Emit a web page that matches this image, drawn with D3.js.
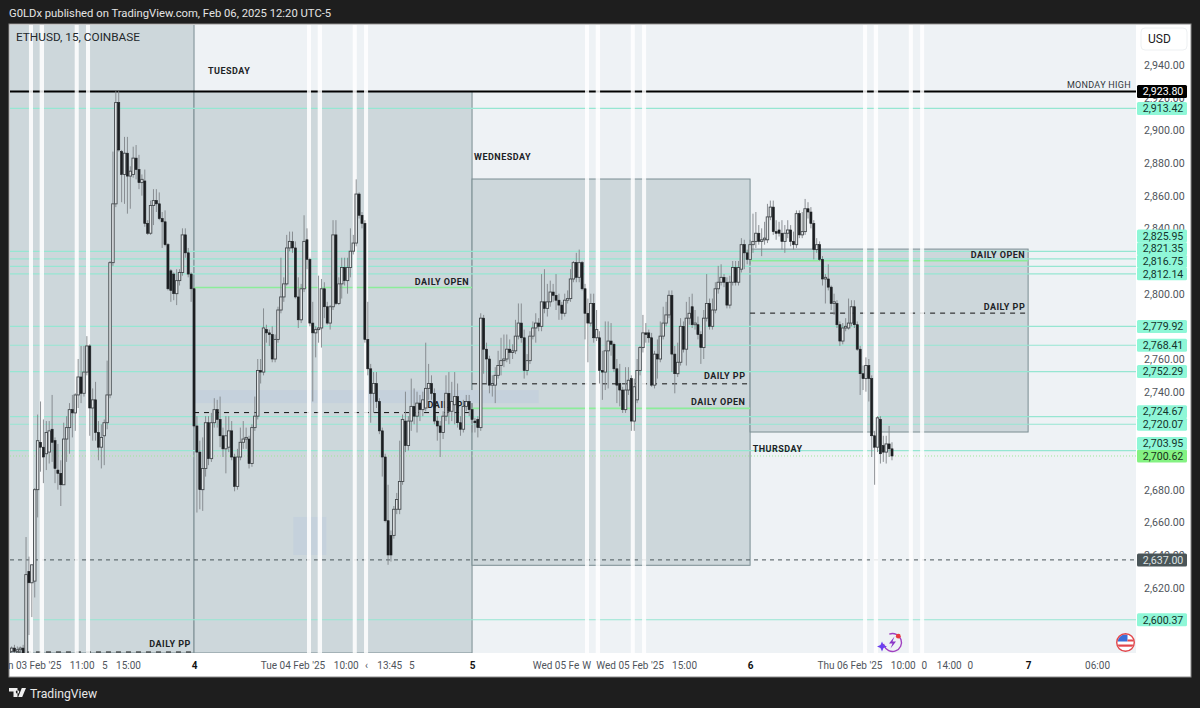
<!DOCTYPE html>
<html>
<head>
<meta charset="utf-8">
<script src="https://cdn.jsdelivr.net/npm/d3@7"></script>
<style>
  html, body { margin: 0; padding: 0; background: #1e1e1e; }
  text { font-family: Roboto, "Noto Sans", sans-serif; }
</style>
</head>
<body>
<div id="chart"></div>
<script>
// candles as [open, high, low, close], 15 min bars
const mondayBars = [
  [2581,2584,2579,2583],[2583,2585,2580,2581],[2581,2584,2579,2582],[2582,2584,2580,2583],[2583,2585,2570,2575],
  [2575,2651,2570,2628],[2630,2639,2591,2623],[2623,2634,2602,2634],[2624,2681,2614,2680],[2680,2726,2663,2710],
  [2709,2734,2691,2706],[2706,2723,2684,2700],[2702,2722,2692,2715],[2703,2722,2696,2716],[2717,2738,2697,2709],
  [2710,2712,2684,2693],[2692,2708,2680,2690],[2690,2698,2670,2683],[2683,2721,2683,2711],[2711,2725,2697,2718],
  [2718,2733,2702,2729],[2729,2738,2712,2727],[2727,2739,2716,2738],[2738,2760,2730,2749],[2749,2768,2733,2739],
  [2739,2768,2737,2752],[2752,2774,2750,2768],[2768,2769,2713,2730],[2730,2742,2710,2735],[2735,2746,2710,2715],
  [2715,2722,2698,2706],[2706,2720,2693,2712],[2713,2723,2695,2721],[2721,2759,2717,2738],[2738,2820,2736,2819],
  [2819,2887,2817,2855],[2855,2924,2853,2917],[2917,2924,2887,2888],[2887,2888,2856,2873],[2873,2896,2855,2886],
  [2886,2896,2849,2872],[2872,2878,2852,2875],[2873,2890,2871,2883],[2883,2891,2870,2876],[2876,2885,2864,2868],
  [2868,2873,2860,2870],[2869,2876,2841,2843],[2843,2845,2836,2837],[2837,2857,2836,2854],[2854,2864,2842,2857],
  [2857,2864,2850,2855],[2855,2862,2845,2846],[2846,2850,2828,2844],[2844,2851,2829,2830],[2830,2831,2802,2803],
  [2814,2815,2795,2802],[2812,2813,2796,2800],[2800,2815,2793,2808],[2808,2815,2805,2813],[2813,2840,2811,2836],
  [2836,2840,2822,2825],[2825,2828,2810,2812],[2812,2813,2795,2803]
];
const tuesdayBars = [
  [2803,2804,2718,2719],[2719,2725,2666,2703],[2703,2710,2668,2680],[2680,2712,2667,2693],[2693,2725,2688,2721],
  [2721,2725,2695,2699],[2699,2727,2697,2721],[2721,2736,2718,2729],[2729,2735,2718,2723],[2723,2737,2706,2713],
  [2713,2718,2700,2705],[2705,2725,2690,2713],[2706,2725,2703,2716],[2716,2722,2698,2700],[2700,2702,2679,2682],
  [2682,2705,2680,2700],[2700,2718,2698,2709],[2709,2722,2705,2711],[2711,2718,2705,2712],[2711,2713,2693,2696],
  [2696,2720,2694,2718],[2718,2737,2716,2725],[2725,2760,2723,2753],[2753,2760,2745,2752],[2752,2791,2750,2779],
  [2778,2781,2770,2776],[2776,2778,2768,2775],[2775,2780,2758,2760],[2760,2775,2758,2772],[2772,2792,2770,2790],
  [2790,2822,2788,2798],[2798,2810,2795,2806],[2806,2836,2805,2828],[2828,2838,2826,2832],[2832,2838,2825,2828],
  [2828,2832,2797,2798],[2798,2810,2779,2784],[2784,2806,2782,2803],[2803,2848,2801,2832],[2833,2840,2815,2821],
  [2821,2822,2780,2782],[2782,2795,2734,2776],[2776,2780,2761,2778],[2778,2811,2770,2779],[2779,2809,2767,2803],
  [2803,2807,2785,2792],[2792,2795,2781,2782],[2782,2793,2778,2792],[2792,2845,2790,2836],[2836,2845,2793,2794],
  [2794,2810,2793,2806],[2806,2822,2797,2816],[2816,2822,2805,2808],[2808,2822,2800,2816],[2816,2840,2810,2826],
  [2826,2836,2824,2831],[2831,2870,2829,2861],[2861,2862,2846,2848],[2848,2850,2840,2843],[2843,2845,2770,2772],
  [2772,2795,2750,2754],[2754,2757,2721,2739],[2739,2752,2727,2745],[2745,2752,2730,2734],[2734,2736,2714,2716],
  [2716,2718,2688,2700],[2700,2702,2660,2661],[2661,2683,2634,2640],[2652,2655,2636,2640],[2652,2670,2650,2668],
  [2668,2678,2665,2674],[2668,2710,2665,2685],[2685,2726,2683,2723],[2722,2740,2703,2707],[2707,2725,2704,2722],
  [2722,2748,2716,2731],[2731,2742,2720,2725],[2725,2740,2715,2733],[2733,2738,2722,2729],[2729,2740,2725,2735],
  [2730,2770,2728,2742],[2742,2757,2735,2745],[2745,2750,2735,2739],[2739,2742,2720,2722],[2722,2725,2710,2719],
  [2719,2722,2700,2715],[2715,2728,2711,2725],[2725,2750,2722,2739],[2739,2752,2720,2728],[2728,2746,2722,2734],
  [2732,2752,2720,2737],[2737,2745,2718,2721],[2721,2725,2713,2717],[2717,2735,2715,2731],[2731,2738,2728,2734],
  [2734,2738,2725,2729]
];
const wednesdayBars = [
  [2729,2733,2715,2723],[2722,2724,2715,2721],[2723,2725,2712,2718],[2718,2788,2716,2785],[2785,2787,2751,2766],
  [2766,2770,2745,2760],[2760,2762,2739,2744],[2744,2750,2737,2745],[2744,2755,2733,2750],[2750,2765,2748,2756],
  [2756,2773,2750,2759],[2759,2775,2755,2760],[2760,2775,2758,2766],[2766,2772,2757,2764],[2764,2769,2760,2765],
  [2765,2784,2763,2774],[2774,2794,2772,2782],[2782,2794,2770,2773],[2773,2778,2748,2753],[2753,2763,2750,2759],
  [2759,2777,2757,2774],[2774,2783,2772,2779],[2779,2788,2770,2782],[2782,2785,2777,2780],[2780,2812,2777,2795],
  [2795,2815,2788,2791],[2791,2806,2786,2795],[2795,2808,2792,2801],[2801,2806,2795,2799],[2799,2812,2790,2796],
  [2796,2800,2784,2793],[2793,2795,2784,2788],[2788,2800,2786,2796],[2796,2802,2794,2797],[2797,2815,2795,2809],
  [2809,2820,2807,2819],[2819,2825,2807,2810],[2810,2827,2807,2819],[2819,2820,2802,2803],[2803,2806,2772,2788],
  [2788,2797,2758,2782],[2782,2800,2780,2794],[2794,2800,2770,2773],[2773,2790,2771,2778],[2773,2777,2745,2753],
  [2753,2765,2735,2752],[2752,2783,2741,2765],[2765,2783,2742,2771],[2771,2782,2762,2769],[2769,2770,2752,2754],
  [2754,2760,2733,2744],[2745,2757,2731,2741],[2741,2743,2727,2729],[2729,2755,2727,2741],[2741,2755,2738,2747],
  [2748,2750,2716,2722],[2722,2748,2716,2743],[2735,2760,2733,2753],[2753,2768,2750,2767],[2767,2787,2764,2776],
  [2776,2782,2770,2775],[2776,2778,2770,2773],[2773,2776,2743,2744],[2744,2765,2742,2763],[2763,2772,2748,2760],
  [2760,2783,2758,2774],[2774,2792,2772,2782],[2782,2795,2780,2787],[2787,2802,2785,2799],[2799,2802,2752,2763],
  [2763,2768,2739,2751],[2751,2770,2749,2758],[2758,2785,2756,2780],[2780,2783,2764,2766],[2766,2795,2756,2785],
  [2785,2798,2781,2788],[2792,2800,2779,2781],[2781,2790,2778,2782],[2781,2786,2772,2775],[2775,2777,2757,2767],
  [2767,2790,2760,2785],[2785,2812,2783,2794],[2794,2797,2778,2780],[2780,2797,2778,2790],[2790,2807,2788,2803],
  [2803,2817,2800,2807],[2807,2818,2805,2810],[2810,2812,2804,2807],[2807,2810,2791,2793],[2793,2811,2791,2807],
  [2807,2820,2805,2816],[2816,2820,2805,2807],[2807,2820,2805,2816],[2815,2834,2813,2830],[2830,2833,2815,2825],
  [2825,2827,2818,2821]
];
const thursdayBars = [
  [2821,2833,2818,2830],[2830,2849,2825,2832],[2832,2850,2828,2837],[2837,2842,2830,2832],[2832,2840,2823,2833],
  [2833,2844,2830,2834],[2833,2855,2831,2847],[2847,2857,2845,2853],[2853,2857,2836,2838],[2838,2845,2833,2837],
  [2839,2844,2835,2837],[2837,2845,2827,2832],[2832,2842,2825,2837],[2837,2845,2834,2839],[2839,2842,2829,2832],
  [2832,2838,2827,2830],[2830,2851,2828,2849],[2849,2851,2834,2836],[2836,2850,2834,2838],[2838,2858,2836,2852],
  [2852,2856,2846,2850],[2850,2853,2840,2843],[2843,2845,2821,2827],[2827,2834,2825,2830],[2830,2832,2820,2821],
  [2821,2823,2805,2809],[2809,2812,2794,2810],[2809,2818,2802,2804],[2804,2805,2790,2794],[2794,2800,2787,2795],
  [2794,2796,2779,2781],[2781,2783,2768,2771],[2771,2782,2769,2779],[2779,2785,2777,2780],[2779,2797,2778,2782],
  [2782,2796,2780,2792],[2792,2796,2779,2781],[2781,2783,2765,2766],[2766,2768,2738,2751],[2751,2756,2741,2748],
  [2748,2761,2740,2756],[2756,2760,2734,2748],[2748,2750,2700,2713],[2713,2716,2683,2706],[2706,2725,2703,2724],
  [2723,2725,2696,2702],[2707,2713,2697,2703],[2703,2713,2696,2708],[2708,2719,2700,2705],[2705,2709,2698,2700.62]
];

const levelPrices = [2913.42, 2825.95, 2821.35, 2816.75, 2812.14, 2779.92, 2768.41, 2752.29, 2724.67, 2720.07, 2703.95, 2600.37];
const mondayHigh = 2923.80;
const keyLevel = 2637.00;
const lastPrice = 2700.62;

const priceTicks = [2940, 2920, 2900, 2880, 2860, 2840, 2800, 2760, 2740, 2680, 2660, 2640, 2620];

// bar numbers are counted from the start of Feb 4
const dayBars = [-96, 0, 96, 192];
const dayBoxTops = [2965, 2923.8, 2870.2, 2827.3];
const dayBoxBottoms = [2580, 2580, 2633.7, 2715.3];
const dayEnds = [0, 96, 192, 288];
const dailyOpens = [null, 2803.8, 2729.8, 2820.2];
const dailyPivots = [2580.6, 2727.2, 2744.8, 2788.1];
const whiteBandStarts = [39, 42.7, 54.8, 58.7];
const whiteBandEnds = [40.4, 44.2, 56.2, 60.1];

const timeTickBars = [-55.2, -38.8, -31, -22.8, 0, 34, 52.4, 59.4, 67.4, 75, 96, 124.8, 135.4, 150.4, 169.2, 192, 226.3, 244.7, 252, 260.6, 267.9, 288, 311.8];
const timeTickLabels = ["n 03 Feb '25", "11:00", "5", "15:00", "4", "Tue 04 Feb '25", "10:00", "‹", "13:45", "5", "5", "Wed 05 Fe", "W", "Wed 05 Feb '25", "15:00", "6", "Thu 06 Feb '25", "10:00", "0", "14:00", "0", "7", "06:00"];
const boldTimeLabels = [0, 96, 192, 288];

const width = 1200, height = 708;
const plotLeft = 10, plotRight = 1136, plotTop = 25, plotBottom = 653;

const bars = [...mondayBars, ...tuesdayBars, ...wednesdayBars, ...thursdayBars];
const firstBar = -mondayBars.length;

const x = d3.scaleLinear().domain([-63.54, 325.25]).range([plotLeft, plotRight]);
const y = d3.scaleLinear().domain([2580, 2964.5]).range([plotBottom, plotTop]);
const fmt = d3.format(",.2f");

const svg = d3.select("#chart").append("svg")
  .attr("width", width)
  .attr("height", height)
  .attr("viewBox", [0, 0, width, height])
  .style("display", "block");

svg.append("rect").attr("width", width).attr("height", height).attr("fill", "#1e1e1e");

// header and footer
svg.append("text").attr("x", 9).attr("y", 17).attr("fill", "#e4e4e4").attr("font-size", 11.25)
  .text("G0LDx published on TradingView.com, Feb 06, 2025 12:20 UTC-5");
svg.append("path").attr("fill", "#f0f0f0")
  .attr("d", "M9 688h8.5v9h-4v-5.5H9z M18.2 697l3.6-9h4.2l-3.8 9z M17.5 690.2a1.7 1.7 0 1 0 0.01 0z");
svg.append("text").attr("x", 30).attr("y", 698).attr("fill", "#e8e8e8").attr("font-size", 12.2)
  .text("TradingView");

// panel
svg.append("rect").attr("x", 9).attr("y", 24).attr("width", 1182).attr("height", 653)
  .attr("fill", "#ffffff").attr("stroke", "#8a8a8a").attr("stroke-width", 1);
svg.append("rect").attr("x", plotLeft).attr("y", plotTop)
  .attr("width", plotRight - plotLeft).attr("height", plotBottom - plotTop).attr("fill", "#eef2f5");

svg.append("clipPath").attr("id", "plot").append("rect")
  .attr("x", plotLeft).attr("y", plotTop)
  .attr("width", plotRight - plotLeft).attr("height", plotBottom - plotTop);
const plot = svg.append("g").attr("clip-path", "url(#plot)");

// day boxes
plot.append("g").selectAll("rect").data(dayBars).join("rect")
  .attr("x", d => x(d))
  .attr("width", (d, i) => x(dayEnds[i]) - x(d))
  .attr("y", (d, i) => y(dayBoxTops[i]))
  .attr("height", (d, i) => y(dayBoxBottoms[i]) - y(dayBoxTops[i]))
  .attr("fill", "#cdd7db")
  .attr("stroke", "#7a8d92")
  .attr("stroke-width", 1);

// pale zones
const paleZones = [[0, 119, 2741, 2733], [34.3, 45.7, 2663.3, 2640]];
plot.append("g").selectAll("rect").data(paleZones).join("rect")
  .attr("x", d => x(d[0]))
  .attr("width", d => x(d[1]) - x(d[0]))
  .attr("y", d => y(d[2]))
  .attr("height", d => y(d[3]) - y(d[2]))
  .attr("fill", "#c5d1dc");

// horizontal levels
plot.append("g").selectAll("line").data(levelPrices).join("line")
  .attr("x1", plotLeft).attr("x2", plotRight)
  .attr("y1", d => y(d)).attr("y2", d => y(d))
  .attr("stroke", "#96e6d2").attr("stroke-width", 1.2);

plot.append("g").selectAll("line").data(dailyOpens.map((d, i) => ({ price: d, i })).filter(d => d.price)).join("line")
  .attr("x1", d => x(dayBars[d.i])).attr("x2", d => x(dayEnds[d.i]))
  .attr("y1", d => y(d.price)).attr("y2", d => y(d.price))
  .attr("stroke", "#8cec9a").attr("stroke-width", 1.6);

plot.append("g").selectAll("line").data(dailyPivots).join("line")
  .attr("x1", (d, i) => x(dayBars[i])).attr("x2", (d, i) => x(dayEnds[i]))
  .attr("y1", d => y(d)).attr("y2", d => y(d))
  .attr("stroke", "#111").attr("stroke-width", 1).attr("stroke-dasharray", "5 5");

plot.append("line").attr("x1", plotLeft).attr("x2", plotRight)
  .attr("y1", y(keyLevel)).attr("y2", y(keyLevel))
  .attr("stroke", "#4b565a").attr("stroke-width", 1).attr("stroke-dasharray", "4 4");
plot.append("line").attr("x1", plotLeft).attr("x2", plotRight)
  .attr("y1", y(lastPrice)).attr("y2", y(lastPrice))
  .attr("stroke", "#9fe89a").attr("stroke-width", 1).attr("stroke-dasharray", "1 2");
plot.append("line").attr("x1", plotLeft).attr("x2", plotRight)
  .attr("y1", y(mondayHigh)).attr("y2", y(mondayHigh))
  .attr("stroke", "#000").attr("stroke-width", 2);

// labels that sit below the candles
const labelG = plot.append("g").attr("font-weight", 700).attr("font-size", 9).attr("fill", "#1c2326").attr("letter-spacing", 0.5);
function label(bar, price, txt, anchor) {
  labelG.append("text").attr("x", x(bar)).attr("y", y(price)).attr("text-anchor", anchor).text(txt);
}
label(4.8, 2934.5, "TUESDAY", "start");
label(96.7, 2881.9, "WEDNESDAY", "start");
label(192.9, 2703, "THURSDAY", "start");
label(-1.1, 2583.5, "DAILY PP", "end");
label(95, 2805.6, "DAILY OPEN", "end");
label(95, 2730, "DAILY PP", "end");
label(190.4, 2747.7, "DAILY PP", "end");
label(190.4, 2731.8, "DAILY OPEN", "end");
label(287, 2821.9, "DAILY OPEN", "end");
label(287, 2790, "DAILY PP", "end");
labelG.append("text").attr("x", plotRight - 5).attr("y", y(mondayHigh) - 3.5)
  .attr("text-anchor", "end").attr("font-weight", 400).attr("letter-spacing", 0.3).attr("font-size", 9).attr("fill", "#30373b")
  .text("MONDAY HIGH");

// white session bands
const bands = dayBars.flatMap(day => whiteBandStarts.map((s, i) => ({ start: day + s, end: day + whiteBandEnds[i] })));
plot.append("g").selectAll("rect").data(bands).join("rect")
  .attr("x", d => x(d.start))
  .attr("width", d => x(d.end) - x(d.start))
  .attr("y", plotTop)
  .attr("height", plotBottom - plotTop)
  .attr("fill", "#ffffff")
  .attr("opacity", 0.85);

// candles
const candles = plot.append("g").selectAll("g").data(bars).join("g");
candles.append("line")
  .attr("x1", (d, i) => x(firstBar + i)).attr("x2", (d, i) => x(firstBar + i))
  .attr("y1", d => y(d[1])).attr("y2", d => y(d[2]))
  .attr("stroke", "#808589").attr("stroke-width", 0.9);
candles.append("rect")
  .attr("x", (d, i) => x(firstBar + i) - (d[3] >= d[0] ? 1.25 : 1.05))
  .attr("width", d => d[3] >= d[0] ? 2.5 : 2.1)
  .attr("y", d => y(Math.max(d[0], d[3])))
  .attr("height", d => Math.max(0.8, Math.abs(y(d[0]) - y(d[3]))))
  .attr("fill", d => d[3] >= d[0] ? "#e2e6e8" : "#1c1f22")
  .attr("stroke", d => d[3] >= d[0] ? "#44494d" : "#1c1f22")
  .attr("stroke-width", d => d[3] >= d[0] ? 0.9 : 0.6);

// price axis
svg.append("g")
  .attr("transform", `translate(${plotRight},0)`)
  .call(d3.axisRight(y).tickValues(priceTicks).tickFormat(fmt).tickSize(0).tickPadding(8))
  .call(g => g.select(".domain").remove())
  .call(g => g.selectAll("text").attr("font-size", 10.6).attr("fill", "#50555c").attr("font-family", "Roboto, sans-serif"));

// price tags, pushed up from the bottom when they collide
const tags = [
  ...levelPrices.map(p => ({ price: p, fill: "#8ff7d7", text: "#14332c" })),
  { price: mondayHigh, fill: "#000000", text: "#ffffff" },
  { price: lastPrice, fill: "#84f282", text: "#14331a" },
  { price: keyLevel, fill: "#4a5558", text: "#dde2e3" }
].sort((a, b) => a.price - b.price);
const tagHeight = 12.6;
tags.forEach((t, i) => {
  t.pos = y(t.price);
  if (i > 0) t.pos = Math.min(t.pos, tags[i - 1].pos - tagHeight);
});
const tagG = svg.append("g").selectAll("g").data(tags).join("g")
  .attr("transform", d => `translate(1137,${d.pos})`);
tagG.append("rect").attr("y", -6.5).attr("width", 50).attr("height", 13).attr("rx", 1.5).attr("fill", d => d.fill);
tagG.append("text").attr("x", 26).attr("dy", "0.36em").attr("text-anchor", "middle")
  .attr("font-size", 10.6).attr("fill", d => d.text).text(d => fmt(d.price));

// USD button
svg.append("rect").attr("x", 1141).attr("y", 28).attr("width", 46).attr("height", 22).attr("rx", 4)
  .attr("fill", "#fff").attr("stroke", "#edf0f2");
svg.append("text").attr("x", 1148).attr("y", 43).attr("font-size", 12).attr("fill", "#1c2024").text("USD");

// time axis
svg.append("g")
  .attr("transform", `translate(0,${plotBottom})`)
  .call(d3.axisBottom(x).tickValues(timeTickBars).tickFormat((d, i) => timeTickLabels[i]).tickSize(0).tickPadding(8.5))
  .call(g => g.select(".domain").remove())
  .call(g => g.selectAll("text")
    .attr("font-family", "Roboto, sans-serif")
    .attr("font-size", 10)
    .attr("fill", d => boldTimeLabels.includes(d) ? "#111" : "#50555c")
    .attr("font-weight", d => boldTimeLabels.includes(d) ? 700 : 400));

// symbol
svg.append("text").attr("x", 16).attr("y", 41).attr("font-size", 11.8).attr("fill", "#23282c").text("ETHUSD, 15, COINBASE");

// bolt badge
const bolt = svg.append("g").attr("transform", "translate(892.5,642.5)");
bolt.append("circle").attr("r", 9).attr("fill", "none").attr("stroke", "#a040c0").attr("stroke-width", 1.4).attr("stroke-dasharray", "44 12").attr("transform", "rotate(-110)");
bolt.append("path").attr("d", "M2 -6L-3.5 1H0L-2 6L3.5 -1H0z").attr("fill", "#8a35c8");
bolt.append("circle").attr("cx", 5.8).attr("cy", -6.3).attr("r", 2.4).attr("fill", "#e8383f");
bolt.append("path").attr("d", "M-10.5 -1L-9 2.5L-5.5 4L-9 5.5L-10.5 9L-12 5.5L-15.5 4L-12 2.5z").attr("fill", "#6a3ff0");

// flag badge
const flag = svg.append("g").attr("transform", "translate(1125.5,642.5)");
flag.append("clipPath").attr("id", "flagClip").append("circle").attr("r", 8);
const flagInner = flag.append("g").attr("clip-path", "url(#flagClip)");
flagInner.append("rect").attr("x", -9).attr("y", -9).attr("width", 18).attr("height", 18).attr("fill", "#fff");
flagInner.append("rect").attr("x", -9).attr("y", -9).attr("width", 11).attr("height", 8).attr("fill", "#3a6fd8");
flagInner.append("rect").attr("x", 2).attr("y", -3).attr("width", 8).attr("height", 2).attr("fill", "#e2474c");
flagInner.append("rect").attr("x", -9).attr("y", 2).attr("width", 18).attr("height", 2.2).attr("fill", "#e2474c");
flag.append("circle").attr("r", 8.8).attr("fill", "none").attr("stroke", "#e2474c").attr("stroke-width", 1.4);
</script>
</body>
</html>
